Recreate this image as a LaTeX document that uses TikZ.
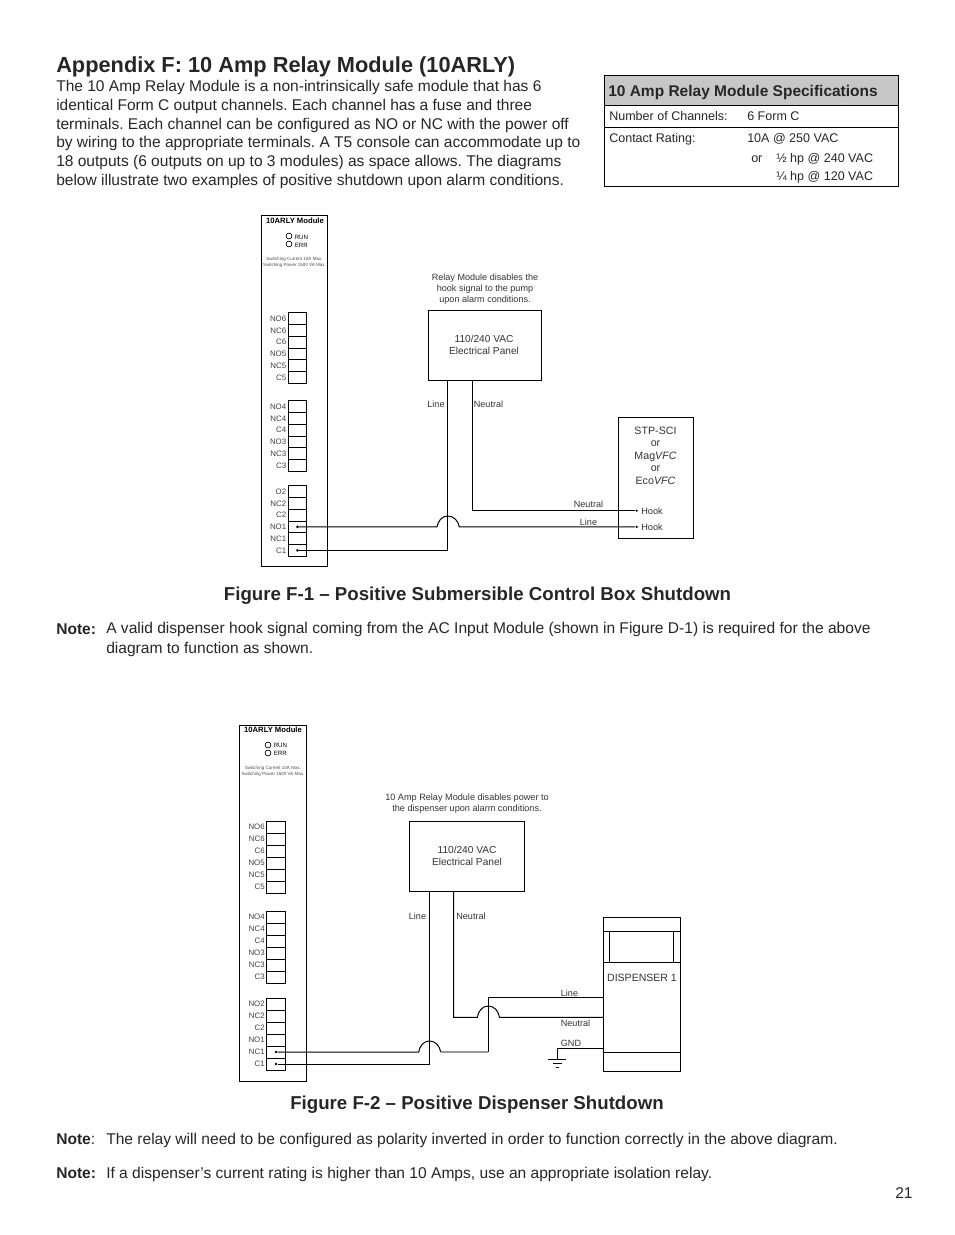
\documentclass[tikz,border=0pt]{standalone}
\usepackage{fontspec}
\setmainfont{Liberation Sans}
\frenchspacing
\tikzset{
  pagetext/.style={inner sep=0pt, anchor=base west, text=black!85},
  titletext/.style={pagetext, font=\fontsize{16.33}{20}\selectfont\bfseries},
  figcap/.style={inner sep=0pt, anchor=base, text=black!85, font=\fontsize{14}{16}\selectfont\bfseries},
  bodytext/.style={pagetext, font=\fontsize{11.68}{14}\selectfont},
  spectext/.style={pagetext, font=\fontsize{9.4}{11}\selectfont},
  smalltext/.style={inner sep=0pt, anchor=base, align=center, text=black!80, font=\fontsize{6.85}{8}\selectfont},
  wirelab/.style={inner sep=0pt, anchor=base, text=black!80, font=\fontsize{6.8}{8}\selectfont},
  module/.style={draw, line width=0.75pt, minimum width=50pt, inner sep=0pt},
  box/.style={draw, line width=0.75pt, inner sep=0pt, align=center, text=black!80, font=\fontsize{7.6}{9}\selectfont},
  term/.style={draw, line width=0.75pt, minimum width=14pt, minimum height=8.775pt, inner sep=0pt},
  termb/.style={term, minimum height=9pt},
  termlab/.style={inner sep=0.9pt, text=black!75, font=\fontsize{5.9}{6}\selectfont},
  wire/.style={line width=0.75pt},
  greywire/.style={line width=1pt, draw=black!40},
  wiredot/.style={circle, fill=black, inner sep=0pt, minimum size=2.2pt},
  led/.style={circle, draw, line width=0.5pt, inner sep=0pt, minimum size=4.4pt},
  ledlab/.style={inner sep=0pt, anchor=west, font=\fontsize{4.6}{5}\selectfont},
  modhead/.style={inner sep=0pt, anchor=base, font=\fontsize{5.75}{6}\selectfont\bfseries},
  modnote/.style={inner sep=0pt, anchor=base, align=center, text=black!70, font=\fontsize{3.4}{4.5}\selectfont}
}
\begin{document}
\begin{tikzpicture}[x=0.75pt, y=-0.75pt]
  \useasboundingbox (0,0) rectangle (954,1235);
  %
  % heading and page text
  \node[titletext] (title) at (56,72) {Appendix F: 10 Amp Relay Module (10ARLY)};
  \node[bodytext, anchor=north west, align=left, font=\fontsize{11.65}{14.1}\selectfont] (intro) at (56,80) {The 10 Amp Relay Module is a non-intrinsically safe module that has 6\\
    identical Form C output channels. Each channel has a fuse and three\\
    terminals. Each channel can be configured as NO or NC with the power off\\
    by wiring to the appropriate terminals. A T5 console can accommodate up to\\
    18 outputs (6 outputs on up to 3 modules) as space allows. The diagrams\\
    below illustrate two examples of positive shutdown upon alarm conditions.};
  %
  % specification table
  \node[draw, line width=0.75pt, fill=black!22, minimum width=220.5pt, minimum height=22.5pt, inner sep=0pt] (spechead) at (751.5,90.5) {};
  \node[draw, line width=0.75pt, minimum width=220.5pt, minimum height=16.5pt, inner sep=0pt] (specrowa) at (751.5,116) {};
  \node[draw, line width=0.75pt, minimum width=220.5pt, minimum height=44.25pt, inner sep=0pt] (specrowb) at (751.5,156.75) {};
  \node[pagetext, font=\fontsize{11.62}{14}\selectfont\bfseries] (spectitle) at (608,96) {10 Amp Relay Module Specifications};
  \node[spectext] (specch) at (609,120) {Number of Channels:};
  \node[spectext] (specchv) at (747,120) {6 Form C};
  \node[spectext] (specct) at (609,142) {Contact Rating:};
  \node[spectext] (specctv) at (747,142) {10A @ 250 VAC};
  \node[spectext] (specor) at (751,162) {or};
  \node[spectext] (spechalf) at (776,162) {½ hp @ 240 VAC};
  \node[spectext] (specquart) at (776,180) {¼ hp @ 120 VAC};
  %
  % first module
  \node[module, minimum width=50pt, minimum height=263pt] (modA) at (294.5,391) {};
  \node[modhead] (modAhead) at (295,223.5) {10ARLY Module};
  \node[led] (ledArun) at (289,236) {};
  \node[led] (ledAerr) at (289,244) {};
  \node[ledlab] (ledArunlab) at (294.5,237) {RUN};
  \node[ledlab] (ledAerrlab) at (294.5,245) {ERR};
  \node[modnote] (modAnote) at (294.5,266) {Switching Current 10A Max.\\Switching Power 1500 VA Max.};
  %
  \node[term, label={[termlab]left:NO6}] (aNOsix) at (297.5,318.8) {};
  \node[term, label={[termlab]left:NC6}] (aNCsix) at (297.5,330.5) {};
  \node[term, label={[termlab]left:C6}] (aCsix) at (297.5,342.2) {};
  \node[term, label={[termlab]left:NO5}] (aNOfive) at (297.5,353.9) {};
  \node[term, label={[termlab]left:NC5}] (aNCfive) at (297.5,365.6) {};
  \node[term, label={[termlab]left:C5}] (aCfive) at (297.5,377.3) {};
  %
  \node[term, label={[termlab]left:NO4}] (aNOfour) at (297.5,406.8) {};
  \node[term, label={[termlab]left:NC4}] (aNCfour) at (297.5,418.5) {};
  \node[term, label={[termlab]left:C4}] (aCfour) at (297.5,430.2) {};
  \node[term, label={[termlab]left:NO3}] (aNOthree) at (297.5,441.9) {};
  \node[term, label={[termlab]left:NC3}] (aNCthree) at (297.5,453.6) {};
  \node[term, label={[termlab]left:C3}] (aCthree) at (297.5,465.3) {};
  %
  \node[term, label={[termlab]left:O2}] (aNOtwo) at (297.5,491.8) {};
  \node[term, label={[termlab]left:NC2}] (aNCtwo) at (297.5,503.5) {};
  \node[term, label={[termlab]left:C2}] (aCtwo) at (297.5,515.2) {};
  \node[term, label={[termlab]left:NO1}] (aNOone) at (297.5,526.9) {};
  \node[term, label={[termlab]left:NC1}] (aNCone) at (297.5,538.6) {};
  \node[term, label={[termlab]left:C1}] (aCone) at (297.5,550.3) {};
  %
  % first panel and pump box
  \node[smalltext, font=\fontsize{6.8}{8}\selectfont] (noteA) at (485,302) {Relay Module disables the\\hook signal to the pump\\upon alarm conditions.};
  \node[box, minimum width=84.75pt, minimum height=52.5pt] (panelA) at (485,345) {};
  \node[inner sep=0pt, align=center, text=black!80, font=\fontsize{7.6}{9}\selectfont] (panelAlab) at (484,345) {110/240 VAC\\Electrical Panel};
  \node[box, minimum width=56.25pt, minimum height=90.75pt] (stpbox) at (655.75,477.75) {};
  \node[smalltext, font=\fontsize{8}{9.35}\selectfont] (stplab) at (655.5,484) {STP-SCI\\or\\Mag\textit{VFC}\\or\\Eco\textit{VFC}};
  \node[wiredot, minimum size=1.8pt] (hookN) at (636.7,510.7) {};
  \node[wiredot, minimum size=1.8pt] (hookL) at (636.7,526.9) {};
  \node[pagetext, text=black!80, font=\fontsize{6.9}{8}\selectfont] (hookNlab) at (641,514) {Hook};
  \node[pagetext, text=black!80, font=\fontsize{6.9}{8}\selectfont] (hookLlab) at (641,530) {Hook};
  %
  \node[wiredot] (dotAno) at (aNOone) {};
  \node[wiredot] (dotAc) at (aCone) {};
  \coordinate (lineAtop) at (447.7,380);
  \coordinate (neutAtop) at (472.5,380);
  \coordinate (jumpAl) at (437,526.9);
  \coordinate (jumpAt) at (447.7,516);
  \coordinate (jumpAr) at (459.3,526.9);
  %
  \draw[wire] (dotAc) -| (lineAtop);                      % line down to C1
  \draw[wire] (dotAno) -- (jumpAl) to[out=80, in=180] (jumpAt) to[out=0, in=100] (jumpAr) -- (hookL);
  \draw[wire] (neutAtop) |- (hookN);                      % neutral to hook
  %
  \node[wirelab] (lineAlab) at (436,407) {Line};
  \node[wirelab] (neutAlab) at (488.5,407) {Neutral};
  \node[wirelab] (neutAhook) at (588.5,507) {Neutral};
  \node[wirelab] (lineAhook) at (588.5,525) {Line};
  %
  % captions and notes of the first figure
  \node[figcap] (capA) at (477.5,600) {Figure F-1 – Positive Submersible Control Box Shutdown};
  \node[bodytext, font=\fontsize{11.68}{14}\selectfont\bfseries] (noteAa) at (56,634) {Note:};
  \node[bodytext, anchor=north west, align=left, font=\fontsize{11.68}{15}\selectfont] (noteAb) at (106,622) {A valid dispenser hook signal coming from the AC Input Module (shown in Figure D-1) is required for the above\\
    diagram to function as shown.};
  %
  % second module
  \node[module, minimum width=50pt, minimum height=267pt] (modB) at (273,903) {};
  \node[modhead] (modBhead) at (273,732) {10ARLY Module};
  \node[led] (ledBrun) at (268,745) {};
  \node[led] (ledBerr) at (268,753) {};
  \node[ledlab] (ledBrunlab) at (273.5,745.5) {RUN};
  \node[ledlab] (ledBerrlab) at (273.5,753.5) {ERR};
  \node[modnote] (modBnote) at (273,775) {Switching Current 10A Max.\\Switching Power 1500 VA Max.};
  %
  \node[termb, label={[termlab]left:NO6}] (bNOsix) at (276,827) {};
  \node[termb, label={[termlab]left:NC6}] (bNCsix) at (276,839) {};
  \node[termb, label={[termlab]left:C6}] (bCsix) at (276,851) {};
  \node[termb, label={[termlab]left:NO5}] (bNOfive) at (276,863) {};
  \node[termb, label={[termlab]left:NC5}] (bNCfive) at (276,875) {};
  \node[termb, label={[termlab]left:C5}] (bCfive) at (276,887) {};
  %
  \node[termb, label={[termlab]left:NO4}] (bNOfour) at (276,917) {};
  \node[termb, label={[termlab]left:NC4}] (bNCfour) at (276,929) {};
  \node[termb, label={[termlab]left:C4}] (bCfour) at (276,941) {};
  \node[termb, label={[termlab]left:NO3}] (bNOthree) at (276,953) {};
  \node[termb, label={[termlab]left:NC3}] (bNCthree) at (276,965) {};
  \node[termb, label={[termlab]left:C3}] (bCthree) at (276,977) {};
  %
  \node[termb, label={[termlab]left:NO2}] (bNOtwo) at (276,1004) {};
  \node[termb, label={[termlab]left:NC2}] (bNCtwo) at (276,1016) {};
  \node[termb, label={[termlab]left:C2}] (bCtwo) at (276,1028) {};
  \node[termb, label={[termlab]left:NO1}] (bNOone) at (276,1040) {};
  \node[termb, label={[termlab]left:NC1}] (bNCone) at (276,1052) {};
  \node[termb, label={[termlab]left:C1}] (bCone) at (276,1064) {};
  %
  % second panel and dispenser
  \node[smalltext] (noteB) at (467,811) {10 Amp Relay Module disables power to\\the dispenser upon alarm conditions.};
  \node[box, minimum width=86.25pt, minimum height=52.5pt] (panelB) at (467,856) {110/240 VAC\\Electrical Panel};
  \node[box, minimum width=57.75pt, minimum height=115.5pt] (disp) at (642,994.5) {};
  \coordinate (dispa) at (603.3,931.3);
  \coordinate (dispb) at (680.5,931.3);
  \coordinate (dispc) at (603.3,962.3);
  \coordinate (dispd) at (680.5,962.3);
  \coordinate (dispe) at (603.3,1052.3);
  \coordinate (dispf) at (680.5,1052.3);
  \coordinate (dispg) at (609.3,931.3);
  \coordinate (disph) at (609.3,962.3);
  \coordinate (dispi) at (673.3,931.3);
  \coordinate (dispj) at (673.3,962.3);
  \draw[wire] (dispa) -- (dispb);                         % top band
  \draw[wire] (dispc) -- (dispd);
  \draw[wire] (dispe) -- (dispf);                         % bottom band
  \draw[wire] (dispg) -- (disph);
  \draw[wire] (dispi) -- (dispj);
  \node[inner sep=0pt, anchor=base, text=black!80, font=\fontsize{7.9}{9}\selectfont] (displab) at (642,981) {DISPENSER 1};
  %
  \node[wiredot] (dotBnc) at (bNCone) {};
  \node[wiredot] (dotBc) at (bCone) {};
  \coordinate (lineBtop) at (429.5,891);
  \coordinate (neutBtop) at (453.5,891);
  \coordinate (jumpBl) at (418.7,1052);
  \coordinate (jumpBt) at (429.5,1041);
  \coordinate (jumpBr) at (440.7,1052);
  \coordinate (turnB) at (488.3,1052);
  \coordinate (turnBtop) at (488.3,997.3);
  \coordinate (lineBend) at (603.3,997.3);
  \coordinate (neutBcor) at (453.5,1017.3);
  \coordinate (jumpCl) at (477.3,1017.3);
  \coordinate (jumpCt) at (488.3,1006);
  \coordinate (jumpCr) at (499.5,1017.3);
  \coordinate (neutBend) at (603.3,1017.3);
  \coordinate (gndBend) at (603.3,1048);
  \coordinate (gndBcor) at (557.3,1048);
  \coordinate (gndBtop) at (557.3,1059.5);
  \coordinate (gndal) at (548,1059.5);
  \coordinate (gndar) at (566,1059.5);
  \coordinate (gndbl) at (552.5,1063.3);
  \coordinate (gndbr) at (562,1063.3);
  \coordinate (gndcl) at (555.5,1067);
  \coordinate (gndcr) at (559,1067);
  %
  \draw[wire] (dotBc) -| (lineBtop);                      % line down to C1
  \draw[wire] (dotBnc) -- (jumpBl) to[out=80, in=180] (jumpBt) to[out=0, in=100] (jumpBr);
  \draw[greywire] (jumpBr) -- (turnB);
  \draw[wire] (turnB) -- (turnBtop) -- (lineBend);
  \draw[wire] (neutBtop) -- (neutBcor) -- (jumpCl) to[out=80, in=180] (jumpCt) to[out=0, in=100] (jumpCr) -- (neutBend);
  \draw[wire, line width=0.6pt] (gndBend) -- (gndBcor) -- (gndBtop);
  \draw[wire, line width=0.6pt] (gndal) -- (gndar);       % earth symbol
  \draw[wire, line width=0.6pt] (gndbl) -- (gndbr);
  \draw[wire, line width=0.6pt] (gndcl) -- (gndcr);
  %
  \node[wirelab] (lineBlab) at (417.5,919) {Line};
  \node[wirelab] (neutBlab) at (471,919) {Neutral};
  \node[wirelab] (lineBdisp) at (569.5,996) {Line};
  \node[wirelab] (neutBdisp) at (575.5,1026) {Neutral};
  \node[wirelab] (gndlab) at (571,1046) {GND};
  %
  % captions and notes of the second figure
  \node[figcap] (capB) at (477,1109) {Figure F-2 – Positive Dispenser Shutdown};
  \node[bodytext] (noteBa) at (56,1144) {\textbf{Note}:};
  \node[bodytext] (noteBb) at (106,1144) {The relay will need to be configured as polarity inverted in order to function correctly in the above diagram.};
  \node[bodytext] (noteCa) at (56,1178) {\textbf{Note:}};
  \node[bodytext] (noteCb) at (106,1178) {If a dispenser’s current rating is higher than 10 Amps, use an appropriate isolation relay.};
  \node[bodytext] (pagenum) at (895,1198) {21};
\end{tikzpicture}
\end{document}
